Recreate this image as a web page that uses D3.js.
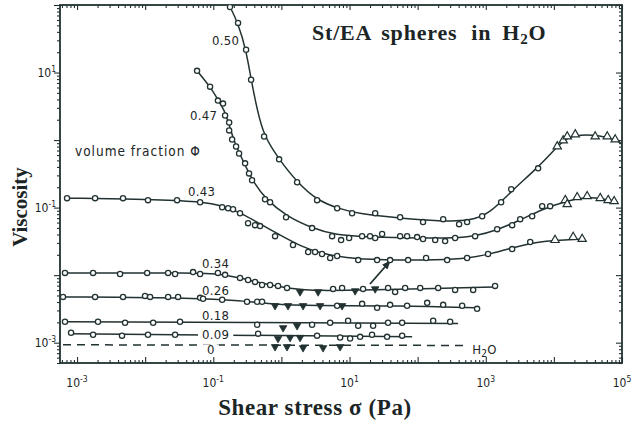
<!DOCTYPE html>
<html><head><meta charset="utf-8">
<script src="https://cdn.jsdelivr.net/npm/d3@7"></script>
<style>body{margin:0;background:#fff}svg{display:block}</style>
</head><body>
<svg id="chart" width="632" height="427"></svg>
<script>
// ---------- data (shear stress in Pa, viscosity in Pa·s) ----------
const xMajorLabels = [1e-3, 1e-1, 1e1, 1e3, 1e5];
const xLabelExps   = ["-3", "-1", "1", "3", "5"];
const yMajorLabels = [1e1, 1e-1, 1e-3];
const yLabelExps   = ["1", "-1", "-3"];

// measured points: [stress, viscosity, marker]
const phi050 = [[0.176,93.5],[0.231,54.3],[0.303,21.7],[0.359,7.83],[0.557,1.13],[0.925,0.518],[1.70,0.237],[3.34,0.129],[6.58,0.098],[10.9,0.0826],[23.8,0.0826],[55.3,0.0721],[120,0.061],[237,0.0675],[406,0.0569],[532,0.061],[885,0.0746],[1680,0.120],[2360,0.187],[5870,0.381],[11200,0.805,"^"],[13700,0.986,"^"],[15700,1.13,"^"],[20600,1.21,"^"],[40400,1.13,"^"],[60700,1.13,"^"],[79400,1.02,"^"]];
const phi047 = [[0.0578,10.6],[0.0897,6.18],[0.117,3.84],[0.139,3.47],[0.149,2.31],[0.171,1.82],[0.171,1.39],[0.189,1.02],[0.216,0.805],[0.239,0.634],[0.293,0.452],[0.335,0.321],[0.371,0.254],[0.575,0.133],[0.682,0.120],[1.17,0.0721],[2.82,0.0497],[5.55,0.0378],[7.52,0.0330],[9.86,0.0354],[15.3,0.0378],[20.0,0.0378],[23.8,0.0354],[30.1,0.0406],[55.3,0.0378],[70.0,0.0378],[98.2,0.0366],[120,0.0342],[181,0.0330],[253,0.0319],[355,0.0354],[698,0.0378],[1470,0.0480],[2440,0.0550],[3200,0.0675],[4800,0.0746],[6730,0.105],[8810,0.105],[14700,0.129,"^"],[15700,0.112,"^"],[22000,0.142,"^"],[30800,0.147,"^"],[47900,0.138,"^"],[62700,0.129,"^"],[76700,0.124,"^"]];
const phi043 = [[7.13e-4,0.138],[1.84e-3,0.138],[4.73e-3,0.138],[0.0110,0.129],[0.0294,0.129],[0.0640,0.120],[0.135,0.101],[0.165,0.098],[0.195,0.0946],[0.247,0.0826],[0.324,0.0589],[0.410,0.0550],[0.486,0.0532],[0.807,0.0378],[1.48,0.0279],[2.47,0.0220],[3.12,0.0220],[3.95,0.0206],[5.19,0.0179],[6.58,0.0192],[13.4,0.0167],[25.4,0.0167],[39.4,0.0167],[72.4,0.0167],[133,0.0179],[271,0.0167],[532,0.0179],[1080,0.0206],[2440,0.0243],[4490,0.0309],[10400,0.0330,"^"],[19200,0.0366,"^"],[26000,0.0342,"^"]];
const phi034 = [[6.65e-4,0.0108],[1.72e-3,0.0108],[4.28e-3,0.0104],[0.0107,0.0108],[0.0217,0.0108],[0.0275,0.0104],[0.0505,0.0111],[0.0640,0.0104],[0.117,0.0108],[0.149,0.0101],[0.247,0.00910],[0.324,0.00849],[0.410,0.00794],[0.520,0.00716],[0.682,0.00716],[0.893,0.00693],[1.21,0.00647],[1.88,0.00565,"v"],[3.46,0.00565,"v"],[5.74,0.00625],[7.78,0.00647],[12.1,0.00585,"v"],[15.8,0.00625],[23.8,0.00625,"v"],[36.8,0.00647],[46.7,0.00565],[65.5,0.00647],[109,0.00647],[200,0.00647],[355,0.00605],[653,0.00605],[1370,0.00693]];
const phi026 = [[6.22e-4,0.00476],[1.84e-3,0.00476],[4.73e-3,0.00476],[9.95e-3,0.00493],[0.0118,0.00476],[0.0217,0.00476],[0.0304,0.00476],[0.0640,0.00461],[0.0708,0.00446],[0.135,0.00431],[0.313,0.00403],[0.440,0.00403],[0.520,0.00403],[0.807,0.00352,"v"],[1.25,0.00352,"v"],[2.08,0.00352,"v"],[3.70,0.00352,"v"],[6.58,0.00352],[7.78,0.00352,"v"],[15.3,0.00376],[25.4,0.00328],[39.4,0.00363],[70.0,0.00352],[138,0.00389],[237,0.00363],[450,0.00352],[746,0.00317]];
const phi018 = [[6.65e-4,0.00204],[2.03e-3,0.00204],[5.07e-3,0.00197],[0.0131,0.00197],[0.0325,0.00204],[0.440,0.00184],[1.06,0.00166,"v"],[1.70,0.00178,"v"],[2.82,0.00184],[5.19,0.00197],[9.53,0.00211],[13.4,0.00178],[22.2,0.00178],[36.8,0.00197],[59.2,0.00197],[169,0.00211],[300,0.00204]];
const phi009 = [[8.17e-4,0.00140],[1.72e-3,0.00131],[4.57e-3,0.00127],[0.0110,0.00131],[0.0275,0.00131],[0.455,0.00136],[0.893,0.00115,"v"],[1.34,0.00119,"v"],[1.88,0.00119,"v"],[3.34,0.00127],[7.28,0.00119],[10.2,0.00115],[14.3,0.00122],[21.4,0.00131],[35.6,0.00122],[59.2,0.00127]];
const phi000 = [[0.807,8.7e-4,"v"],[1.21,8.7e-4,"v"],[2.08,8.4e-4,"v"],[4.09,8.4e-4,"v"],[7.28,8.7e-4,"v"]];

// fitted curves drawn through the data
const fit050 = [[0.171,100],[0.231,54.3],[0.303,21.7],[0.359,7.83],[0.440,2.83],[0.557,1.13],[0.925,0.518],[1.70,0.237],[3.34,0.129],[6.58,0.098],[14.3,0.080],[55.3,0.0698],[214,0.0630],[590,0.0630],[1160,0.0826],[2360,0.175],[5870,0.394],[11200,0.805],[15700,1.09],[24300,1.21],[47900,1.17],[79400,1.02],[104000,0.861]];
const fit047 = [[0.0578,10.6],[0.0897,6.18],[0.117,3.97],[0.144,2.83],[0.171,1.70],[0.202,0.953],[0.247,0.614],[0.313,0.368],[0.410,0.221],[0.575,0.138],[1.17,0.0746],[2.82,0.0497],[6.14,0.0391],[20.0,0.0366],[109,0.0354],[355,0.0354],[698,0.0378],[1470,0.0465],[3200,0.0652],[6730,0.0946],[14700,0.124],[28800,0.142],[47900,0.138],[79400,0.124]];
const fit043 = [[7.13e-4,0.138],[0.0118,0.133],[0.0640,0.124],[0.149,0.105],[0.293,0.0773],[0.486,0.0569],[0.957,0.0392],[1.88,0.0270],[3.70,0.0212],[8.61,0.0179],[28.1,0.0167],[214,0.0167],[590,0.0179],[1160,0.0206],[2440,0.0252],[5310,0.0309],[12400,0.0330],[26900,0.0342]];
const fit034 = [[6.65e-4,0.0108],[0.0640,0.0108],[0.126,0.0104],[0.247,0.00910],[0.486,0.00767],[1.34,0.00625],[3.70,0.00585],[14.3,0.00605],[109,0.00625],[1370,0.00670]];
const fit026 = [[6.22e-4,0.00476],[0.0640,0.00461],[0.247,0.00416],[0.682,0.00376],[2.64,0.00352],[55.3,0.00352],[746,0.00328]];
const fit018 = [[6.65e-4,0.00204],[393,0.00192]];
const fit009 = [[8.17e-4,0.00136],[83.0,0.00122]];
const fit000 = [[6.22e-4,0.00093],[466,0.00091]];

const labelText = ["0.50","0.47","volume fraction Φ","0.43","0.34","0.26","0.18","0.09","0","H2O"];
const labelX = [0.096,0.0456,9.33e-4,0.0427,0.0684,0.0684,0.0684,0.0684,0.0811,631];
const labelY = [25.7,1.95,0.573,0.147,0.0128,0.00511,0.00218,0.00113,6.7e-4,6.89e-4];
const labelMask = [false,false,false,false,false,false,false,true,true,false];
const arrowPts = [[20.0,0.0074],[39.4,0.0162]];

// ---------- drawing ----------
const INK = "#223131", TXT = "#1b2525";
const svg = d3.select("#chart");
svg.append("rect").attr("width",632).attr("height",427).attr("fill","#fff");
const L=60,R=622,T=5,B=363;
const x = d3.scaleLog().domain([5.62e-4,1e5]).range([L,R]);
const y = d3.scaleLog().domain([5.0e-4,100]).range([B,T]);

function logTicks(sc){
  const [a,b]=sc.domain(), maj=[], min=[];
  for(let e=Math.floor(Math.log10(a)); e<=Math.ceil(Math.log10(b)); e++){
    for(let k=1;k<=9;k++){
      const v=k*Math.pow(10,e);
      if(v<a*0.999||v>b*1.001) continue;
      (k===1?maj:min).push(v);
    }
  }
  return {maj,min};
}
const xt=logTicks(x), yt=logTicks(y);
function styleAxis(g){g.select(".domain").remove();g.selectAll("line").attr("stroke",INK).attr("stroke-width",1.1);g.selectAll("text").remove();}
svg.append("g").attr("transform",`translate(0,${B})`).call(d3.axisBottom(x).tickValues(xt.min).tickSize(-3).tickFormat("")).call(styleAxis);
svg.append("g").attr("transform",`translate(0,${B})`).call(d3.axisBottom(x).tickValues(xt.maj).tickSize(-6).tickFormat("")).call(styleAxis);
svg.append("g").attr("transform",`translate(0,${T})`).call(d3.axisTop(x).tickValues(xt.min).tickSize(-3).tickFormat("")).call(styleAxis);
svg.append("g").attr("transform",`translate(0,${T})`).call(d3.axisTop(x).tickValues(xt.maj).tickSize(-5).tickFormat("")).call(styleAxis);
svg.append("g").attr("transform",`translate(${L},0)`).call(d3.axisLeft(y).tickValues(yt.min).tickSize(3).tickFormat("")).call(styleAxis);
svg.append("g").attr("transform",`translate(${L},0)`).call(d3.axisLeft(y).tickValues(yt.maj).tickSize(6).tickFormat("")).call(styleAxis);
svg.append("g").attr("transform",`translate(${R},0)`).call(d3.axisRight(y).tickValues(yt.min).tickSize(-3).tickFormat("")).call(styleAxis);
svg.append("g").attr("transform",`translate(${R},0)`).call(d3.axisRight(y).tickValues(yt.maj).tickSize(-6).tickFormat("")).call(styleAxis);
svg.append("rect").attr("x",L).attr("y",T).attr("width",R-L).attr("height",B-T)
  .attr("fill","none").attr("stroke",INK).attr("stroke-width",1.8);

const tickFont = "'DejaVu Sans Condensed','DejaVu Sans',sans-serif";
xMajorLabels.forEach((v,i)=>{
  const t=svg.append("text").attr("x",x(v)).attr("y",387).attr("text-anchor","middle")
    .attr("font-family",tickFont).attr("font-size",12).attr("fill",TXT);
  t.append("tspan").text("10");
  t.append("tspan").attr("dy",-5).attr("font-size",8.5).text(xLabelExps[i]);
});
yMajorLabels.forEach((v,i)=>{
  const t=svg.append("text").attr("x",56).attr("y",y(v)+4).attr("text-anchor","end")
    .attr("font-family",tickFont).attr("font-size",12).attr("fill",TXT);
  t.append("tspan").text("10");
  t.append("tspan").attr("dy",-5).attr("font-size",8.5).text(yLabelExps[i]);
});

svg.append("clipPath").attr("id","plot").append("rect").attr("x",L).attr("y",T).attr("width",R-L).attr("height",B-T);
const plot = svg.append("g").attr("clip-path","url(#plot)");

const line = d3.line().x(d=>x(d[0])).y(d=>y(d[1])).curve(d3.curveBasis);
const fits=[fit050,fit047,fit043,fit034,fit026,fit018,fit009];
fits.forEach(f=>plot.append("path").attr("d",line(f)).attr("fill","none").attr("stroke",INK).attr("stroke-width",1.5));
plot.append("path").attr("d",line(fit000)).attr("fill","none").attr("stroke",INK)
  .attr("stroke-width",1.5).attr("stroke-dasharray","8,6");

svg.append("defs").append("marker").attr("id","ah").attr("viewBox","0 0 10 10").attr("refX",9).attr("refY",5)
  .attr("markerWidth",5).attr("markerHeight",5).attr("orient","auto")
  .append("path").attr("d","M0,1 L10,5 L0,9 Z").attr("fill",INK);
plot.append("path").attr("d",d3.line().x(d=>x(d[0])).y(d=>y(d[1]))(arrowPts))
  .attr("stroke",INK).attr("stroke-width",1.8).attr("fill","none").attr("marker-end","url(#ah)");

const labFont="'DejaVu Sans Condensed','DejaVu Sans',sans-serif";
labelText.forEach((s,i)=>{
  const t=svg.append("text").attr("x",x(labelX[i])).attr("y",y(labelY[i]))
    .attr("font-family",labFont).attr("font-size",i===2?13.5:13).attr("fill",TXT)
    .attr("letter-spacing",i===2?1:0.3);
  if(s==="H2O"){ t.append("tspan").text("H"); t.append("tspan").attr("dy",3).attr("font-size",10).text("2"); t.append("tspan").attr("dy",-3).text("O"); }
  else t.text(s);
  if(labelMask[i]){
    const bb=t.node().getBBox();
    svg.insert("rect",()=>t.node()).attr("x",bb.x-4).attr("y",bb.y+2).attr("width",bb.width+8).attr("height",bb.height-4).attr("fill","#fff");
  }
});

const allPts=[phi050,phi047,phi043,phi034,phi026,phi018,phi009,phi000];
const triUp=d3.symbol().type(d3.symbolTriangle).size(30)();
const triDn=d3.symbol().type(d3.symbolTriangle).size(24)();
allPts.forEach(arr=>{
  arr.forEach(d=>{
    const px=x(d[0]),py=y(d[1]),m=d[2]||"o";
    if(m==="o") plot.append("circle").attr("cx",px).attr("cy",py).attr("r",2.6)
      .attr("fill","#fff").attr("stroke",INK).attr("stroke-width",1.3);
    else if(m==="^") plot.append("path").attr("d",triUp).attr("transform",`translate(${px},${py})`)
      .attr("fill","#fff").attr("stroke",INK).attr("stroke-width",1.2);
    else if(m==="v") plot.append("path").attr("d",triDn).attr("transform",`translate(${px},${py}) rotate(180)`)
      .attr("fill",INK).attr("stroke",INK).attr("stroke-width",0.8);
  });
});

const serif="'Liberation Serif','DejaVu Serif',serif";
const tt=svg.append("text").attr("x",312).attr("y",40).attr("font-family",serif).attr("font-weight","bold")
  .attr("font-size",22).attr("letter-spacing",0.8).attr("fill",TXT);
tt.append("tspan").text("St/EA");
tt.append("tspan").attr("dx",9).text("spheres");
tt.append("tspan").attr("dx",14).text("in");
tt.append("tspan").attr("dx",11).text("H");
tt.append("tspan").attr("dy",4).attr("font-size",15).text("2");
tt.append("tspan").attr("dy",-4).text("O");

svg.append("text").attr("x",315).attr("y",415).attr("text-anchor","middle").attr("font-family",serif)
  .attr("font-weight","bold").attr("font-size",23).attr("letter-spacing",0.6).attr("fill",TXT).text("Shear stress σ (Pa)");
svg.append("text").attr("transform","translate(27,207) rotate(-90)").attr("text-anchor","middle")
  .attr("font-family",serif).attr("font-weight","bold").attr("font-size",21).attr("fill",TXT).text("Viscosity");
</script>
</body></html>
